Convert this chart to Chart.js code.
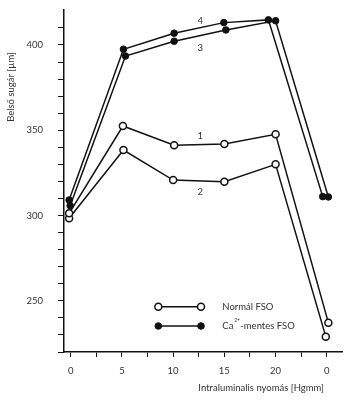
<!DOCTYPE html>
<html><head><meta charset="utf-8">
<script src="https://cdn.jsdelivr.net/npm/chart.js@4/dist/chart.umd.min.js"></script>
<style>html,body{margin:0;padding:0;background:#fff}canvas{display:block}</style>
</head><body>
<canvas id="c" width="350" height="400"></canvas>
<script>
// ---- data ----
const xTickLabels = ['0', '5', '10', '15', '20', '0'];   // pressure steps (index 0..5)
const yLabelValues = [250, 300, 350, 400];
const legendNames = ['Normál FSO', 'Ca', '2+', '-mentes FSO'];
const xTitle = 'Intraluminalis nyomás [Hgmm]';
const yTitle = 'Belső sugár [µm]';

// curve 1 and 2: normal (open circles)
const s1X = [-0.03, 1.02, 2.02, 3.00, 4.00, 5.03];
const s1Y = [301.3, 352.5, 341.2, 341.9, 347.6, 237.2];
const s2X = [-0.03, 1.03, 2.00, 3.00, 4.00, 4.98];
const s2Y = [298.4, 338.4, 320.8, 319.8, 330.0, 229.0];
// curve 3 and 4: Ca-free (filled circles)
const s3X = [-0.01, 1.07, 2.02, 3.03, 4.00, 5.03];
const s3Y = [305.8, 393.5, 402.2, 408.8, 414.2, 310.9];
const s4X = [-0.03, 1.03, 2.02, 2.99, 3.86, 4.92];
const s4Y = [309.1, 397.5, 406.9, 413.1, 414.7, 311.1];

const curveLabels = ['1', '2', '3', '4'];
const curveLabelX = [2.53, 2.53, 2.53, 2.53];
const curveLabelY = [346.6, 314.0, 398.4, 414.0];

// ---- build ----
const pts = (xs, ys) => xs.map((x, i) => ({x: x, y: ys[i]}));
const FONT = 'Lato';
const TXT = '#333';
const INK = '#111';

const openStyle = {borderColor: INK, borderWidth: 1.5, pointRadius: 3.5, pointBorderWidth: 1.5,
  pointBackgroundColor: '#fff', pointBorderColor: INK, backgroundColor: '#fff', fill: false, tension: 0};
const fillStyle = {borderColor: INK, borderWidth: 1.5, pointRadius: 3.3, pointBorderWidth: 1,
  pointBackgroundColor: INK, pointBorderColor: INK, backgroundColor: INK, fill: false, tension: 0};

const datasets = [
  Object.assign({label: '1', data: pts(s1X, s1Y)}, openStyle),
  Object.assign({label: '2', data: pts(s2X, s2Y)}, openStyle),
  Object.assign({label: '3', data: pts(s3X, s3Y)}, fillStyle),
  Object.assign({label: '4', data: pts(s4X, s4Y)}, fillStyle)
];

const annot = {
  id: 'annot',
  afterDraw(chart) {
    const ctx = chart.ctx, xs = chart.scales.x, ys = chart.scales.y;
    ctx.save();
    ctx.fillStyle = TXT;
    ctx.font = '9.5px ' + FONT;
    ctx.textAlign = 'center'; ctx.textBaseline = 'middle';
    curveLabels.forEach((t, i) => ctx.fillText(t, xs.getPixelForValue(curveLabelX[i]), ys.getPixelForValue(curveLabelY[i])));
    ctx.textAlign = 'right';
    ctx.fillText(xTitle, 324, 388);
    ctx.save();
    ctx.translate(11, 87); ctx.rotate(-Math.PI / 2);
    ctx.textAlign = 'center';
    ctx.fillText(yTitle, 0, 0);
    ctx.restore();
    const rows = [{y: 306.7, ds: datasets[0]}, {y: 326, ds: datasets[2]}];
    rows.forEach(r => {
      ctx.strokeStyle = INK; ctx.lineWidth = 1.5;
      ctx.beginPath(); ctx.moveTo(158.3, r.y); ctx.lineTo(201, r.y); ctx.stroke();
      [158.3, 201].forEach(x => {
        ctx.beginPath(); ctx.arc(x, r.y, r.ds.pointRadius, 0, Math.PI * 2);
        ctx.fillStyle = r.ds.pointBackgroundColor; ctx.fill();
        ctx.lineWidth = r.ds.pointBorderWidth; ctx.strokeStyle = INK; ctx.stroke();
      });
    });
    ctx.fillStyle = TXT; ctx.textAlign = 'left'; ctx.textBaseline = 'middle';
    ctx.font = '9.5px ' + FONT;
    ctx.fillText(legendNames[0], 222.3, 306.7);
    let x = 222.3;
    ctx.fillText(legendNames[1], x, 326);
    x += ctx.measureText(legendNames[1]).width + 0.8;
    ctx.font = '5px ' + FONT;
    ctx.fillText(legendNames[2], x, 320);
    x += ctx.measureText(legendNames[2]).width + 0.3;
    ctx.font = '9.5px ' + FONT;
    ctx.fillText(legendNames[3], x, 326);
    ctx.restore();
  }
};

new Chart(document.getElementById('c'), {
  type: 'line',
  data: {datasets: datasets},
  plugins: [annot],
  options: {
    responsive: false, animation: false, devicePixelRatio: 1,
    layout: {padding: {top: 10, right: 7.3, left: 0, bottom: 0}},
    plugins: {legend: {display: false}, tooltip: {enabled: false}},
    scales: {
      x: {
        type: 'linear', min: -0.13, max: 5.31,
        afterBuildTicks: s => { const t = []; for (let v = 0; v <= 5; v += 0.5) t.push({value: v}); s.ticks = t; },
        afterFit: s => { s.height = 48; s.paddingLeft = 0; s.paddingRight = 0; },
        grid: {drawOnChartArea: false, drawTicks: true, tickLength: 5, color: INK, lineWidth: 1},
        border: {display: true, color: INK, width: 1.5},
        ticks: {
          autoSkip: false, maxRotation: 0, padding: 8, color: TXT, font: {family: FONT, size: 9.5},
          callback: v => (Number.isInteger(v) ? xTickLabels[v] : '')
        }
      },
      y: {
        type: 'linear', min: 220, max: 420.5,
        afterBuildTicks: s => { const t = []; for (let v = 220; v <= 410; v += 10) t.push({value: v}); s.ticks = t; },
        afterFit: s => { s.width = 64; s.paddingTop = 0; s.paddingBottom = 0; },
        grid: {drawOnChartArea: false, drawTicks: true, tickLength: 6, color: INK, lineWidth: 1},
        border: {display: true, color: INK, width: 1.5},
        ticks: {
          autoSkip: false, padding: 15, color: TXT, font: {family: FONT, size: 9.5},
          callback: v => (yLabelValues.includes(v) ? String(v) : '')
        }
      }
    }
  }
});
</script>
</body></html>
